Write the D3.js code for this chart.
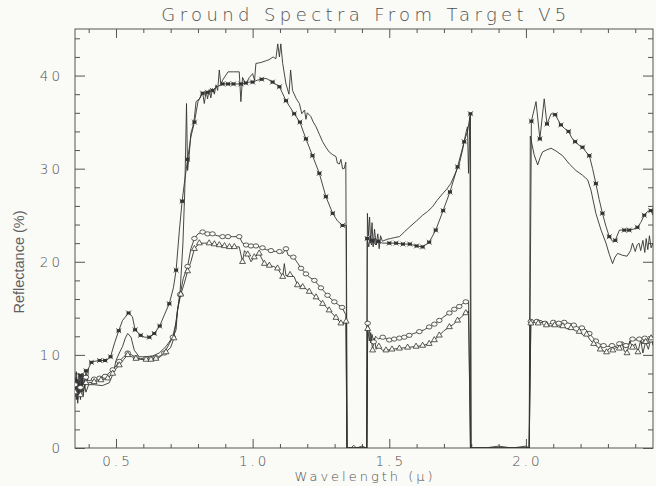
<!DOCTYPE html>
<html><head><meta charset="utf-8">
<script src="https://cdn.jsdelivr.net/npm/d3@7"></script>
<style>
body{margin:0;background:#fafaf6;}
svg{display:block;background:#fafaf6;}
.lab{font-family:"DejaVu Sans",sans-serif;font-weight:300;fill:#505050;}
</style>
</head><body><svg id="c" width="656" height="486"></svg>
<script>
const titleText = "Ground Spectra From Target V5";
const xLabelText = "Wavelength (\u03bc)";
const yLabelText = "Reflectance (%)";
const xTickValues = [0.5, 1.0, 1.5, 2.0];
const xTickLabels = ["0.5", "1.0", "1.5", "2.0"];
const yTickValues = [0, 10, 20, 30, 40];
const yTickLabels = ["0", "10", "20", "30", "40"];

// series A: asterisk markers (upper)
const seriesA = [[0.35,6.5],[0.355,5.2],[0.36,7.4],[0.365,5.8],[0.37,7.8],[0.375,6.0],[0.38,8.0],[0.385,6.5],[0.39,8.3],[0.395,7.2],[0.40,8.6],[0.41,9.2],[0.42,9.3],[0.44,9.4],[0.46,9.4],[0.47,9.5],[0.48,9.8],[0.495,11.3],[0.51,12.6],[0.524,13.7],[0.546,14.5],[0.56,14.1],[0.57,12.7],[0.59,12.1],[0.605,11.9],[0.622,11.9],[0.64,12.3],[0.66,13.1],[0.677,14.3],[0.695,15.5],[0.71,17.2],[0.72,19.1],[0.732,23.4],[0.742,26.5],[0.75,28.4],[0.762,31.0],[0.774,33.4],[0.787,35.0],[0.80,37.2],[0.817,38.1],[0.835,38.2],[0.853,38.4],[0.87,38.8],[0.89,39.1],[0.91,39.1],[0.93,39.1],[0.957,39.1],[0.975,39.2],[0.988,39.3],[1.0,39.3],[1.017,39.5],[1.033,39.6],[1.049,39.7],[1.073,39.3],[1.098,38.8],[1.122,37.3],[1.137,36.6],[1.152,35.9],[1.173,35.0],[1.195,33.2],[1.219,31.4],[1.244,29.5],[1.268,27.0],[1.293,25.2],[1.31,24.4],[1.329,23.9],[1.343,23.9],[1.346,0],[1.36,0],[1.37,0.3],[1.38,0],[1.40,0.2],[1.417,0],[1.419,22.5],[1.425,21.6],[1.43,22.8],[1.435,21.8],[1.44,22.3],[1.45,21.8],[1.46,22.2],[1.475,22.0],[1.50,22.0],[1.525,22.0],[1.55,21.9],[1.575,21.9],[1.60,21.7],[1.622,21.6],[1.646,22.1],[1.67,23.4],[1.697,25.5],[1.722,27.5],[1.75,30.2],[1.774,32.9],[1.787,34.1],[1.797,35.9],[1.80,0],[1.85,0],[1.90,0.2],[1.95,0],[2.0,0.2],[2.012,0],[2.02,35.1],[2.037,37.2],[2.051,33.2],[2.067,37.5],[2.077,34.8],[2.092,35.9],[2.107,35.8],[2.128,34.7],[2.142,34.3],[2.156,34.0],[2.168,33.3],[2.18,32.9],[2.195,32.5],[2.207,32.3],[2.22,31.8],[2.232,31.4],[2.244,30.0],[2.256,28.4],[2.268,26.7],[2.28,25.2],[2.293,23.8],[2.305,22.7],[2.317,22.2],[2.327,22.3],[2.342,23.4],[2.36,23.4],[2.378,23.4],[2.393,23.5],[2.408,23.7],[2.42,24.2],[2.433,25.0],[2.445,25.4],[2.457,25.5],[2.465,25.0]];

// series B: plain line (upper)
const seriesB = [[0.35,5.5],[0.355,7.5],[0.36,4.8],[0.365,7.0],[0.37,5.2],[0.375,7.3],[0.38,5.6],[0.385,6.8],[0.39,6.0],[0.40,6.8],[0.42,6.8],[0.45,6.7],[0.475,7.0],[0.49,8.0],[0.50,9.4],[0.512,10.2],[0.524,10.9],[0.534,11.8],[0.543,12.3],[0.555,11.9],[0.567,10.5],[0.585,9.8],[0.61,9.8],[0.635,9.9],[0.658,10.2],[0.683,10.9],[0.707,11.9],[0.72,13.5],[0.735,17.0],[0.745,22.0],[0.752,28.0],[0.758,37.0],[0.762,29.8],[0.768,31.5],[0.774,33.8],[0.781,34.5],[0.787,35.5],[0.793,37.2],[0.805,37.5],[0.817,38.2],[0.823,37.0],[0.83,38.3],[0.835,37.5],[0.841,38.5],[0.847,37.6],[0.853,38.6],[0.86,38.0],[0.866,39.0],[0.872,38.4],[0.878,40.6],[0.884,39.0],[0.89,39.5],[0.91,40.4],[0.93,40.4],[0.951,40.4],[0.957,37.2],[0.963,39.8],[0.975,39.1],[0.988,39.8],[1.0,40.2],[1.007,39.5],[1.012,41.3],[1.03,41.4],[1.05,41.6],[1.06,41.7],[1.075,42.0],[1.085,41.8],[1.092,43.4],[1.098,42.0],[1.103,43.4],[1.11,41.3],[1.122,39.1],[1.133,38.0],[1.139,40.6],[1.146,38.4],[1.16,37.5],[1.171,37.0],[1.18,35.9],[1.19,36.3],[1.195,35.3],[1.2,36.0],[1.213,35.6],[1.222,35.0],[1.232,34.5],[1.244,33.7],[1.256,32.9],[1.268,32.3],[1.28,31.8],[1.293,31.5],[1.305,31.3],[1.31,30.6],[1.317,30.5],[1.323,31.0],[1.329,30.0],[1.335,30.0],[1.341,30.7],[1.345,0],[1.36,0],[1.39,0],[1.418,0],[1.42,25.2],[1.424,22.8],[1.428,24.8],[1.432,22.0],[1.437,24.2],[1.441,21.6],[1.446,23.5],[1.452,21.8],[1.458,23.0],[1.463,21.4],[1.468,22.8],[1.475,22.2],[1.49,22.4],[1.505,22.5],[1.52,22.6],[1.537,22.7],[1.555,23.2],[1.573,23.7],[1.6,24.4],[1.622,25.0],[1.64,25.4],[1.658,25.9],[1.675,26.6],[1.695,27.3],[1.71,27.8],[1.725,28.4],[1.74,29.4],[1.756,30.5],[1.768,32.0],[1.78,33.8],[1.786,34.5],[1.79,29.5],[1.795,35.6],[1.798,0],[1.9,0],[2.012,0],[2.016,33.5],[2.03,31.5],[2.043,30.4],[2.052,31.2],[2.061,31.8],[2.075,32.0],[2.092,32.2],[2.11,31.9],[2.134,31.4],[2.159,30.5],[2.183,29.8],[2.207,29.3],[2.226,28.8],[2.238,27.7],[2.256,25.2],[2.275,23.4],[2.293,22.0],[2.305,20.8],[2.317,19.8],[2.326,20.5],[2.336,20.9],[2.353,20.7],[2.37,20.6],[2.383,21.2],[2.39,22.0],[2.40,21.1],[2.407,21.8],[2.414,22.0],[2.42,21.2],[2.428,22.3],[2.435,21.0],[2.44,22.5],[2.446,21.3],[2.452,22.8],[2.458,21.5],[2.465,22.0]];

// series C: circle markers (lower)
const seriesC = [[0.35,6.8],[0.355,8.2],[0.36,6.2],[0.365,7.9],[0.37,6.5],[0.375,8.0],[0.38,6.9],[0.39,7.6],[0.40,7.2],[0.42,7.4],[0.44,7.5],[0.46,7.7],[0.488,8.4],[0.50,8.8],[0.512,9.3],[0.528,9.8],[0.543,10.2],[0.558,10.0],[0.573,9.7],[0.59,9.6],[0.61,9.6],[0.628,9.6],[0.646,9.7],[0.662,9.9],[0.677,10.2],[0.695,11.2],[0.708,11.9],[0.72,12.7],[0.725,14.8],[0.735,16.5],[0.746,18.2],[0.762,19.5],[0.774,21.4],[0.787,22.5],[0.80,23.0],[0.817,23.2],[0.835,23.0],[0.853,23.0],[0.87,22.8],[0.89,22.7],[0.91,22.7],[0.927,22.7],[0.951,22.7],[0.963,22.0],[0.976,21.8],[0.994,21.7],[1.012,21.7],[1.024,21.6],[1.036,21.5],[1.05,21.3],[1.067,21.2],[1.083,21.1],[1.098,21.1],[1.11,20.9],[1.122,21.4],[1.13,20.7],[1.149,20.5],[1.164,19.9],[1.177,19.3],[1.195,18.7],[1.21,18.3],[1.226,18.0],[1.238,17.6],[1.25,17.2],[1.262,16.8],[1.274,16.4],[1.287,16.0],[1.299,15.7],[1.313,15.4],[1.327,15.1],[1.341,14.3],[1.345,0],[1.38,0],[1.418,0],[1.421,13.4],[1.427,12.7],[1.432,11.3],[1.437,12.2],[1.443,11.4],[1.45,12.0],[1.46,11.7],[1.476,11.9],[1.50,11.6],[1.518,11.7],[1.537,11.8],[1.555,11.9],[1.573,12.1],[1.59,12.3],[1.61,12.5],[1.628,12.7],[1.646,13.0],[1.665,13.3],[1.683,13.7],[1.70,14.1],[1.72,14.5],[1.738,14.9],[1.756,15.2],[1.768,15.5],[1.78,15.7],[1.79,15.8],[1.797,0],[1.9,0],[2.012,0],[2.018,13.6],[2.024,13.4],[2.04,13.6],[2.055,13.7],[2.07,13.4],[2.085,13.3],[2.10,13.5],[2.12,13.4],[2.14,13.5],[2.158,13.4],[2.175,13.2],[2.189,13.0],[2.205,12.9],[2.22,12.7],[2.232,12.3],[2.244,11.9],[2.256,11.5],[2.268,11.2],[2.284,11.0],[2.299,10.9],[2.315,11.0],[2.33,10.9],[2.342,11.2],[2.354,11.4],[2.366,11.0],[2.378,11.2],[2.39,11.7],[2.403,11.6],[2.415,11.7],[2.425,11.2],[2.435,11.8],[2.446,11.2],[2.457,11.6],[2.465,11.3]];

// series D: triangle markers (lower)
const seriesD = [[0.35,6.0],[0.355,7.6],[0.36,5.2],[0.365,7.2],[0.37,5.7],[0.375,7.5],[0.38,6.1],[0.39,7.0],[0.40,7.0],[0.42,7.1],[0.445,7.3],[0.47,7.5],[0.488,8.0],[0.50,8.5],[0.512,8.9],[0.528,9.5],[0.543,10.0],[0.558,9.8],[0.573,9.6],[0.59,9.5],[0.61,9.5],[0.628,9.5],[0.646,9.6],[0.662,9.8],[0.683,10.3],[0.70,10.8],[0.712,11.8],[0.725,14.8],[0.737,16.5],[0.75,17.7],[0.762,19.0],[0.774,20.0],[0.787,21.4],[0.805,22.0],[0.823,22.0],[0.841,22.0],[0.86,21.9],[0.878,21.8],[0.897,21.7],[0.915,21.6],[0.933,21.6],[0.951,21.6],[0.963,20.0],[0.97,21.2],[0.982,20.8],[0.994,20.0],[1.006,20.5],[1.024,20.9],[1.043,19.8],[1.061,19.6],[1.076,19.5],[1.091,19.3],[1.11,18.4],[1.116,19.8],[1.122,18.5],[1.137,18.6],[1.152,18.4],[1.164,17.5],[1.183,17.3],[1.195,17.1],[1.207,16.8],[1.22,16.5],[1.232,16.2],[1.244,15.9],[1.256,15.5],[1.268,15.2],[1.28,14.8],[1.293,14.4],[1.305,14.0],[1.323,13.4],[1.335,13.4],[1.342,13.6],[1.345,0],[1.38,0],[1.418,0],[1.421,12.8],[1.427,11.5],[1.432,12.4],[1.439,10.5],[1.445,11.8],[1.452,10.6],[1.462,10.9],[1.475,10.5],[1.488,10.5],[1.51,10.6],[1.537,10.7],[1.567,10.8],[1.598,10.9],[1.622,11.0],[1.646,11.2],[1.665,11.6],[1.683,12.1],[1.70,12.6],[1.72,13.0],[1.735,13.3],[1.75,13.7],[1.765,14.1],[1.78,14.5],[1.79,14.7],[1.797,0],[1.9,0],[2.012,0],[2.018,13.4],[2.03,13.6],[2.045,13.4],[2.06,13.5],[2.075,13.2],[2.09,13.1],[2.105,13.2],[2.12,13.0],[2.135,13.1],[2.15,12.8],[2.165,12.9],[2.18,12.6],[2.195,12.5],[2.21,12.1],[2.222,12.2],[2.235,11.6],[2.248,11.2],[2.26,10.9],[2.272,10.6],[2.284,10.4],[2.295,10.3],[2.305,10.7],[2.318,10.5],[2.33,10.8],[2.342,10.7],[2.35,11.4],[2.36,10.4],[2.37,10.2],[2.38,11.5],[2.39,10.8],[2.40,11.2],[2.41,10.3],[2.42,11.6],[2.428,10.2],[2.438,11.4],[2.448,10.6],[2.458,11.8],[2.465,11.0]];

const W = 656, H = 486;
const L = 75, R = 653, T = 29, B = 448;
const ink = "#333", axisInk = "#555";

const svg = d3.select("#c");
const x = d3.scaleLinear().domain([0.35, 2.465]).range([L, R]);
const y = d3.scaleLinear().domain([0, 45]).range([B, T]);

svg.append("defs").append("clipPath").attr("id", "clip")
  .append("rect").attr("x", L).attr("y", T - 2).attr("width", R - L).attr("height", B - T + 2);

// axes ticks
const xMinor = d3.range(4, 25).map(d => d / 10).filter(v => Math.abs(v * 2 - Math.round(v * 2)) > 1e-6);
const yMinor = d3.range(2, 45, 2).filter(v => v % 10 !== 0);

function styleAxis(g) {
  g.select(".domain").remove();
  g.selectAll("line").attr("stroke", axisInk).attr("stroke-width", 1);
}
svg.append("g").attr("transform", `translate(0,${B})`).call(d3.axisBottom(x).tickValues(xTickValues).tickSize(-9).tickFormat("")).call(styleAxis);
svg.append("g").attr("transform", `translate(0,${B})`).call(d3.axisBottom(x).tickValues(xMinor).tickSize(-4).tickFormat("")).call(styleAxis);
svg.append("g").attr("transform", `translate(0,${T})`).call(d3.axisTop(x).tickValues(xTickValues).tickSize(-9).tickFormat("")).call(styleAxis);
svg.append("g").attr("transform", `translate(0,${T})`).call(d3.axisTop(x).tickValues(xMinor).tickSize(-4).tickFormat("")).call(styleAxis);
svg.append("g").attr("transform", `translate(${L},0)`).call(d3.axisLeft(y).tickValues(yTickValues).tickSize(-10).tickFormat("")).call(styleAxis);
svg.append("g").attr("transform", `translate(${L},0)`).call(d3.axisLeft(y).tickValues(yMinor).tickSize(-5).tickFormat("")).call(styleAxis);
svg.append("g").attr("transform", `translate(${R},0)`).call(d3.axisRight(y).tickValues(yTickValues).tickSize(-10).tickFormat("")).call(styleAxis);
svg.append("g").attr("transform", `translate(${R},0)`).call(d3.axisRight(y).tickValues(yMinor).tickSize(-5).tickFormat("")).call(styleAxis);

svg.append("rect").attr("x", L).attr("y", T).attr("width", R - L).attr("height", B - T)
  .attr("fill", "none").attr("stroke", axisInk).attr("stroke-width", 1);

// tick labels
svg.append("g").selectAll("text").data(xTickValues).join("text")
  .attr("class", "lab").attr("x", d => x(d) + 1.5).attr("y", B + 18)
  .attr("text-anchor", "middle").attr("font-size", 13.5).attr("letter-spacing", 3)
  .text((d, i) => xTickLabels[i]);
svg.append("g").selectAll("text").data(yTickValues).join("text")
  .attr("class", "lab").attr("x", L - 12).attr("y", d => y(d) + 5)
  .attr("text-anchor", "end").attr("font-size", 13.5).attr("letter-spacing", 3)
  .text((d, i) => yTickLabels[i]);

// titles
svg.append("text").attr("class", "lab").attr("x", (L + R) / 2 + 2).attr("y", 21)
  .attr("text-anchor", "middle").attr("font-size", 18).attr("letter-spacing", 4.4)
  .text(titleText);
svg.append("text").attr("class", "lab").attr("x", (L + R) / 2 + 1).attr("y", 481)
  .attr("text-anchor", "middle").attr("font-size", 13).attr("letter-spacing", 3)
  .text(xLabelText);
svg.append("text").attr("transform", "translate(24,262) rotate(-90)")
  .attr("text-anchor", "middle").attr("font-family", "'Liberation Sans',Arial,sans-serif")
  .attr("font-size", 14.5).attr("fill", "#606060").text(yLabelText);

// lines
const line = d3.line().x(d => x(d[0])).y(d => y(d[1]));
const plot = svg.append("g").attr("clip-path", "url(#clip)");
[seriesB, seriesD, seriesC, seriesA].forEach(s => {
  plot.append("path").datum(s).attr("d", line)
    .attr("fill", "none").attr("stroke", ink).attr("stroke-width", 0.9);
});

function markerPoints(s) {
  const out = []; let last = -1;
  s.forEach(d => { if (d[1] > 0.5 && d[0] - last >= 0.018) { out.push(d); last = d[0]; } });
  return out;
}
// asterisk-like markers
const mA = plot.append("g").selectAll("g").data(markerPoints(seriesA)).join("g")
  .attr("transform", d => `translate(${x(d[0])},${y(d[1])})`);
mA.append("rect").attr("x", -2).attr("y", -1.5).attr("width", 4).attr("height", 3).attr("fill", ink);
mA.append("path").attr("d", "M-2.5,-2.5L2.5,2.5M-2.5,2.5L2.5,-2.5").attr("stroke", ink).attr("stroke-width", 0.7);
// circles
plot.append("g").selectAll("ellipse").data(markerPoints(seriesC)).join("ellipse")
  .attr("cx", d => x(d[0])).attr("cy", d => y(d[1])).attr("rx", 2.8).attr("ry", 2.1)
  .attr("fill", "#fafaf6").attr("stroke", ink).attr("stroke-width", 0.8);
// triangles
const tri = d3.symbol().type(d3.symbolTriangle).size(15);
plot.append("g").selectAll("path").data(markerPoints(seriesD)).join("path")
  .attr("d", tri).attr("transform", d => `translate(${x(d[0])},${y(d[1])})`)
  .attr("fill", "#fafaf6").attr("stroke", ink).attr("stroke-width", 0.8);
</script>
</body></html>
